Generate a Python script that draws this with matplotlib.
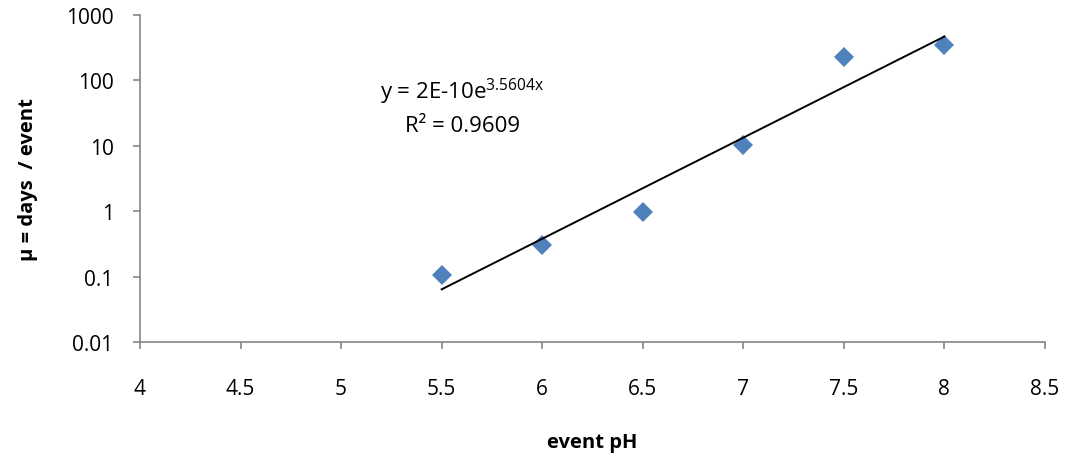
import numpy as np
import matplotlib
matplotlib.use("Agg")
import matplotlib.pyplot as plt

# measured event data
ph = [5.5, 6.0, 6.5, 7.0, 7.5, 8.0]
days_per_event = [0.105, 0.305, 0.96, 10.3, 232, 352]

# exponential trendline y = a * exp(b x)
fit_a = 2e-10
fit_b = 3.5604
fit_r2 = 0.9609

x_ticks = [4, 4.5, 5, 5.5, 6, 6.5, 7, 7.5, 8, 8.5]
x_tick_labels = ["4", "4.5", "5", "5.5", "6", "6.5", "7", "7.5", "8", "8.5"]
y_ticks = [0.01, 0.1, 1, 10, 100, 1000]
y_tick_labels = ["0.01", "0.1", "1", "10", "100", "1000"]

plt.rcParams["font.family"] = ["Open Sans", "DejaVu Sans"]
plt.rcParams["mathtext.fontset"] = "custom"
plt.rcParams["mathtext.rm"] = "Open Sans"

fig = plt.figure(figsize=(10.71, 4.6), dpi=100)
ax = fig.add_axes([0.1307, 0.2543, 0.8450, 0.7109])

xs = np.linspace(min(ph), max(ph), 200)
ax.plot(xs, fit_a * np.exp(fit_b * xs), color="black", lw=1.4, zorder=3)
ax.plot(ph, days_per_event, linestyle="none", marker="D", ms=10.5,
        color="#4F81BD", markeredgewidth=0, zorder=2)

ax.set_yscale("log")
ax.set_xlim(4, 8.5)
ax.set_ylim(0.01, 1000)
ax.set_xticks(x_ticks)
ax.set_xticklabels(x_tick_labels)
ax.set_yticks(y_ticks)
ax.set_yticklabels(y_tick_labels)
ax.minorticks_off()

gray = "#868686"
for side in ["top", "right"]:
    ax.spines[side].set_visible(False)
for side in ["left", "bottom"]:
    ax.spines[side].set_color(gray)
    ax.spines[side].set_linewidth(1.2)
ax.tick_params(axis="both", direction="out", length=5, width=1.2, color=gray,
               labelsize=15, labelcolor="black")
ax.tick_params(axis="x", pad=21)
ax.tick_params(axis="y", pad=14)

ax.set_xlabel("event pH", fontsize=14.5, fontweight="bold", labelpad=24)
ax.set_ylabel("µ = days  / event", fontsize=14.5, fontweight="bold", labelpad=20)

ax.text(0.356, 0.768, r"y = 2E-10e$\mathregular{^{3.5604x}}$",
        transform=ax.transAxes, ha="center", va="center", fontsize=16)
ax.text(0.356, 0.661, f"R² = {fit_r2}",
        transform=ax.transAxes, ha="center", va="center", fontsize=16)

fig.savefig("out.png", dpi=100)
